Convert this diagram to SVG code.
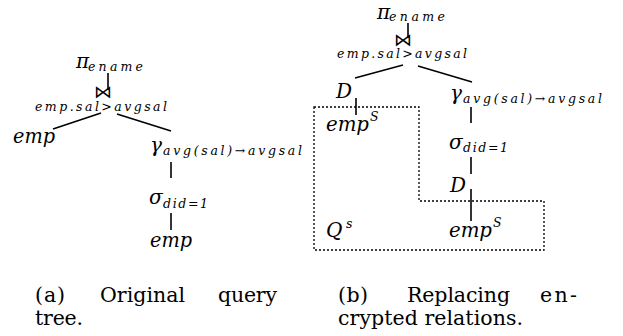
<svg xmlns="http://www.w3.org/2000/svg" width="623" height="336" viewBox="0 0 623 336">
<style>
text{fill:#000;font-family:'DejaVu Serif','Liberation Serif',serif}
.m{font-style:italic;font-size:20px}
.s{font-style:italic;font-size:12.5px}
.c{font-size:20.5px}
.bt{font-family:'DejaVu Sans',sans-serif;font-size:18px;text-anchor:end;font-style:normal}
.e{stroke:#000;stroke-width:1.6;fill:none}
.box{stroke:#000;stroke-width:1.3;fill:none;stroke-dasharray:2 2}
</style>
<rect width="623" height="336" fill="#fff"/>
<g id="connectors">
  <line class="e" x1="108" y1="73" x2="108" y2="90"/>
  <line class="e" x1="53" y1="129" x2="101" y2="113"/>
  <line class="e" x1="117" y1="114" x2="171" y2="131"/>
  <line class="e" x1="171" y1="162" x2="171" y2="178"/>
  <line class="e" x1="171" y1="213" x2="171" y2="230"/>
  <line class="e" x1="408" y1="23" x2="408" y2="38"/>
  <line class="e" x1="355" y1="78" x2="403" y2="65"/>
  <line class="e" x1="418" y1="66" x2="472" y2="82"/>
  <line class="e" x1="356" y1="98" x2="356" y2="115"/>
  <line class="e" x1="471" y1="107" x2="471" y2="123"/>
  <line class="e" x1="471" y1="157" x2="471" y2="174"/>
  <line class="e" x1="471" y1="189" x2="471" y2="221"/>
</g>
<g id="region-Qs">
  <path class="box" d="M314,107 H419 V201 H544 V250 H314 Z"/>
</g>
<g id="a-project">
  <text class="m" x="76" y="68">π</text>
  <text class="s" x="88" y="71" textLength="55">ename</text>
</g>
<g id="a-join">
  <text class="bt" x="112" y="98">⋈</text>
  <text class="s" x="35" y="111" textLength="132">emp.sal&gt;avgsal</text>
</g>
<g id="a-emp1">
  <text class="m" x="13" y="143" textLength="42" lengthAdjust="spacingAndGlyphs">emp</text>
</g>
<g id="a-gamma">
  <text class="m" x="150" y="152">γ</text>
  <text class="s" x="163" y="155" textLength="139">avg(sal)→avgsal</text>
</g>
<g id="a-sigma">
  <text class="m" x="149" y="204">σ</text>
  <text class="s" x="163" y="208" textLength="45">did=1</text>
</g>
<g id="a-emp2">
  <text class="m" x="150" y="247" textLength="42" lengthAdjust="spacingAndGlyphs">emp</text>
</g>
<g id="b-project">
  <text class="m" x="377" y="19">π</text>
  <text class="s" x="389" y="21" textLength="56">ename</text>
</g>
<g id="b-join">
  <text class="bt" x="412" y="46">⋈</text>
  <text class="s" x="337" y="58" textLength="130">emp.sal&gt;avgsal</text>
</g>
<g id="b-D1">
  <text class="m" x="336" y="98">D</text>
</g>
<g id="b-empS1">
  <text class="m" x="326" y="131" textLength="43" lengthAdjust="spacingAndGlyphs">emp</text>
  <text class="s" x="370" y="121">S</text>
</g>
<g id="b-gamma">
  <text class="m" x="450" y="100">γ</text>
  <text class="s" x="463" y="103" textLength="139">avg(sal)→avgsal</text>
</g>
<g id="b-sigma">
  <text class="m" x="449" y="149">σ</text>
  <text class="s" x="463" y="152" textLength="45">did=1</text>
</g>
<g id="b-D2">
  <text class="m" x="450" y="192">D</text>
</g>
<g id="b-empS2">
  <text class="m" x="449" y="237" textLength="43" lengthAdjust="spacingAndGlyphs">emp</text>
  <text class="s" x="493" y="227">S</text>
</g>
<g id="b-Qs">
  <text class="m" x="326" y="237">Q</text>
  <text class="s" x="346" y="228">s</text>
</g>
<g id="captions">
  <text class="c" x="35" y="302" textLength="30">(a)</text>
  <text class="c" x="100" y="302" textLength="85">Original</text>
  <text class="c" x="218" y="302" textLength="59">query</text>
  <text class="c" x="35" y="325" textLength="48">tree.</text>
  <text class="c" x="338" y="302" textLength="30">(b)</text>
  <text class="c" x="407" y="302" textLength="103">Replacing</text>
  <text class="c" x="540" y="302" textLength="37">en-</text>
  <text class="c" x="338" y="325" textLength="185">crypted relations.</text>
</g>
</svg>
